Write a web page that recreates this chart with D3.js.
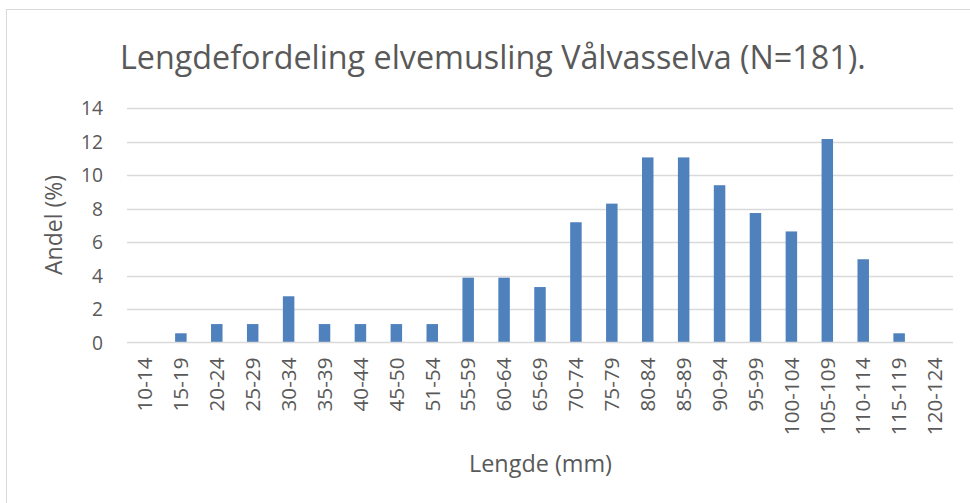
<!DOCTYPE html>
<html><head><meta charset="utf-8">
<script src="https://cdn.jsdelivr.net/npm/d3@7"></script>
<style>body{margin:0;background:#fff}svg{display:block}text{font-family:"Open Sans",sans-serif;fill:#595959}</style>
</head><body>
<svg id="c" width="970" height="503"></svg>
<script>
const categories = ["10-14","15-19","20-24","25-29","30-34","35-39","40-44","45-50","51-54","55-59","60-64","65-69","70-74","75-79","80-84","85-89","90-94","95-99","100-104","105-109","110-114","115-119","120-124"];
const values = [0,0.55,1.10,1.10,2.76,1.10,1.10,1.10,1.10,3.87,3.87,3.31,7.18,8.29,11.05,11.05,9.39,7.73,6.63,12.15,4.97,0.55,0];
const yTicks = [0,2,4,6,8,10,12,14];
const title = "Lengdefordeling elvemusling Vålvasselva (N=181).";
const xTitle = "Lengde (mm)";
const yTitle = "Andel (%)";

const svg = d3.select("#c");
svg.append("rect").attr("x",6.5).attr("y",9.5).attr("width",990).attr("height",520)
  .attr("fill","#fff").attr("stroke","#d9d9d9").attr("stroke-width",1);

const pLeft=127, pRight=953, pTop=108, pBottom=342.5;
const x = d3.scaleBand().domain(categories).range([pLeft,pRight]).paddingInner(0.68).paddingOuter(0.34);
const y = d3.scaleLinear().domain([0,14]).range([pBottom,pTop]);

function fitSel(sel, refNode, target, base){
  sel.style("font-size", base+"px");
  const w = refNode.getComputedTextLength();
  sel.style("font-size", (base*target/w)+"px");
}

svg.append("g").selectAll("line").data(yTicks.filter(d=>d>0)).join("line")
  .attr("x1",pLeft).attr("x2",pRight).attr("y1",d=>Math.round(y(d))+0.5).attr("y2",d=>Math.round(y(d))+0.5)
  .attr("stroke","#d9d9d9").attr("stroke-width",1.3);

const yAxis = svg.append("g").attr("transform",`translate(${pLeft},0)`)
  .call(d3.axisLeft(y).tickValues(yTicks).tickSize(0).tickPadding(24).tickFormat(d3.format("d")));
yAxis.select(".domain").remove();
const yl = yAxis.selectAll("text").style("font-family",'"Open Sans",sans-serif').style("fill","#595959").attr("dy","0.36em");
fitSel(yl, yl.nodes()[yl.size()-1], 22, 18);

svg.append("g").selectAll("rect").data(values).join("rect")
  .attr("x",(d,i)=>x(categories[i])).attr("width",x.bandwidth())
  .attr("y",d=>y(d)).attr("height",d=>y(0)-y(d))
  .attr("fill","#4f81bd");

svg.append("line").attr("x1",pLeft).attr("x2",pRight).attr("y1",pBottom).attr("y2",pBottom)
  .attr("stroke","#d9d9d9").attr("stroke-width",1.3);

const xAxis = svg.append("g").attr("transform",`translate(0,${pBottom})`)
  .call(d3.axisBottom(x).tickSize(0).tickPadding(0));
xAxis.select(".domain").remove();
const xl = xAxis.selectAll("text").style("font-family",'"Open Sans",sans-serif').style("fill","#595959")
  .attr("text-anchor","end").attr("dy","0.35em")
  .attr("transform","translate(0,15) rotate(-90)").attr("x",0).attr("y",0);
fitSel(xl, xl.nodes()[0], 54, 16);

const t = svg.append("text").attr("x",120).attr("y",69).text(title);
fitSel(t, t.node(), 746, 30);
const xt = svg.append("text").attr("x",540.5).attr("y",472).attr("text-anchor","middle").text(xTitle);
fitSel(xt, xt.node(), 143, 20);
const yt = svg.append("text").attr("transform","translate(62,225) rotate(-90)").attr("text-anchor","middle").text(yTitle);
fitSel(yt, yt.node(), 100, 20);
</script>
</body></html>
